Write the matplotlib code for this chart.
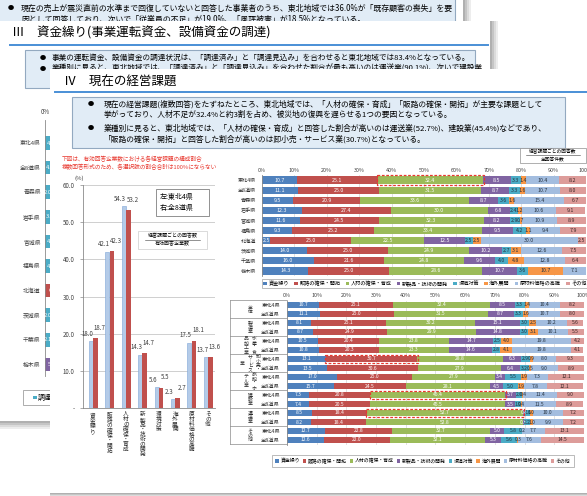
import numpy as np
import matplotlib
matplotlib.use("Agg")
import matplotlib.pyplot as plt
from matplotlib.patches import Rectangle

plt.rcParams["font.family"] = ["Noto Sans CJK JP", "DejaVu Sans"]
plt.rcParams["axes.unicode_minus"] = False

# ---------------------------------------------------------------- data
issues = ["資金繰り", "販路の確保・開拓", "人材の確保・育成", "新製品・技術の開発",
          "環境対策", "海外展開", "原材料価格の高騰", "その他"]
issue_colors = ["#4f81bd", "#c0504d", "#9bbb59", "#8064a2",
                "#4bacc6", "#f79646", "#a3bddf", "#dd9c9a"]
label_colors = ["white", "white", "white", "white",
                "#26323f", "#26323f", "#26323f", "#3a2626"]

# share of responding firms per issue (multiple answers)
share_tohoku = [18.0, 42.1, 54.3, 14.3, 5.6, 2.3, 17.5, 13.7]
share_all8 = [18.7, 42.3, 53.2, 14.7, 5.5, 2.7, 18.1, 13.6]

# composition by prefecture
regions = ["東北4県", "全8道県", "青森県", "岩手県", "宮城県", "福島県",
           "北海道", "茨城県", "千葉県", "栃木県"]
reg_funds = [10.7, 11.1, 9.5, 12.3, 11.6, 9.3, 2.5, 14.0, 16.0, 14.3]
reg_sales = [25.1, 25.0, 20.9, 27.4, 24.5, 25.2, 25.0, 25.0, 21.6, 25.0]
reg_staff = [32.4, 31.5, 33.6, 30.0, 32.3, 33.4, 22.5, 24.9, 24.8, 28.6]
reg_product = [8.5, 8.7, 8.7, 6.8, 8.2, 9.5, 12.5, 10.2, 9.6, 10.7]
reg_env = [3.3, 3.3, 3.6, 2.4, 2.9, 4.2, 2.5, 2.7, 4.0, 3.6]
reg_overseas = [1.4, 1.6, 1.6, 1.2, 0.7, 1.1, 2.5, 3.1, 4.8, 10.7]
reg_material = [10.4, 10.7, 15.4, 10.6, 10.9, 9.4, 30.0, 12.6, 12.8, 7.1]
reg_other = [8.2, 8.0, 6.7, 9.1, 8.9, 7.9, 2.5, 7.5, 6.4, 0.0]

# composition by industry (東北4県 / 全8道県 pairs)
industries = ["全体", "製造業", "水産・食品加工業", "卸小売・サービス業",
              "旅館・ホテル業", "建設業", "運送業", "その他"]
scopes = ["東北4県", "全8道県"]
ind_funds = [10.7, 11.1, 8.1, 8.7, 10.5, 10.8, 13.1, 13.5, 17.0, 15.7, 7.3, 7.4, 8.5, 8.2, 12.7, 12.6]
ind_sales = [25.1, 25.0, 25.1, 24.9, 20.4, 20.3, 30.7, 30.6, 25.0, 24.5, 20.8, 20.5, 18.4, 18.4, 22.8, 22.0]
ind_staff = [32.4, 31.5, 30.2, 29.9, 23.8, 23.3, 28.8, 27.9, 27.9, 28.1, 45.4, 45.5, 52.7, 52.8, 32.7, 32.1]
ind_product = [8.5, 8.7, 15.1, 14.8, 14.7, 14.6, 6.3, 6.4, 3.4, 4.5, 3.7, 3.5, 0.6, 0.3, 5.0, 5.3]
ind_env = [3.3, 3.3, 3.0, 3.0, 2.5, 2.8, 2.9, 3.2, 5.5, 5.0, 2.0, 1.9, 1.6, 2.2, 5.8, 5.6]
ind_overseas = [1.4, 1.6, 2.5, 3.1, 4.0, 4.1, 0.9, 0.5, 1.9, 1.9, 0.4, 0.4, 1.0, 1.0, 0.2, 0.3]
ind_material = [10.4, 10.7, 10.2, 10.1, 19.8, 19.8, 8.0, 9.0, 7.3, 7.8, 11.4, 11.5, 10.0, 9.9, 7.7, 7.6]
ind_other = [8.2, 8.0, 5.6, 5.5, 4.2, 4.1, 9.3, 8.9, 12.1, 12.1, 9.0, 8.9, 7.2, 7.2, 13.1, 14.5]

# funding status chart (section III)
fund_ready = [4.6, 4.3, 2.0, 3.6, 4.5, 4.8, 0.0, 2.0, 2.1, 0.0]
fund_expected = [0.0, 0.0, 0.0, 0.0, 0.0, 0.0, 6.5, 0.0, 0.0, 0.0]
fund_hard = [0.0, 0.0, 0.0, 0.0, 0.0, 0.0, 0.0, 0.0, 0.0, 5.5]
fund_names = ["調達済み", "調達見込み", "調達困難"]
fund_colors = ["#4bacc6", "#c0504d", "#8064a2"]

pct_ticks = list(range(0, 101, 10))

# ---------------------------------------------------------------- canvas
W, H = 587, 496
fig = plt.figure(figsize=(W / 100, H / 100), dpi=100)
fig.patch.set_facecolor("white")


def add_px(x0, y0, x1, y1, z):
    return fig.add_axes([x0 / W, 1 - y1 / H, (x1 - x0) / W, (y1 - y0) / H], zorder=z)


def blank(ax, x0, x1, y0, y1, face="white"):
    ax.set_xlim(x0, x1)
    ax.set_ylim(y1, y0)
    ax.set_xticks([])
    ax.set_yticks([])
    for s in ax.spines.values():
        s.set_visible(False)
    ax.set_facecolor(face)


def vtext(s):
    return "\n".join("｜" if c == "ー" else c for c in s)


BOX_FACE = "#e1ecf6"
BOX_EDGE = "#93a9c0"
RULE_BLUE = "#4a8fd6"

# desk: section pages lying underneath
desk = add_px(0, 0, W, H, 0)
blank(desk, 0, W, 0, H, face="none")

# page with section II text
desk.add_patch(Rectangle((-5, -5), 460, 27, fc=BOX_FACE, ec=BOX_EDGE, lw=0.8, zorder=1))
desk.text(8, 8, "●", fontsize=4.5, va="center", zorder=1)
desk.text(21, 8, "現在の売上が震災直前の水準まで回復していないと回答した事業者のうち、東北地域では36.0%が「既存顧客の喪失」を要",
          fontsize=5.7, va="center", zorder=1)
desk.text(21, 19, "因として回答しており、次いで「従業員の不足」が19.0%、「風評被害」が18.5%となっている。",
          fontsize=5.7, va="center", zorder=1)
for i, a in enumerate([0.55, 0.4, 0.25, 0.12]):
    desk.add_patch(Rectangle((463 + i * 2, -5), 2, 27, fc="#707070", ec="none", alpha=a, zorder=1))

# page with section III
desk.add_patch(Rectangle((-5, 21), 495, 400, fc="white", ec="none", zorder=2))
for i, a in enumerate([0.55, 0.4, 0.25, 0.12]):
    desk.add_patch(Rectangle((490 + i * 2, 21), 2, 60, fc="#707070", ec="none", alpha=a, zorder=2))
    desk.add_patch(Rectangle((-5, 421 + i * 2), 60, 2, fc="#707070", ec="none", alpha=a, zorder=2))
desk.text(12, 33, "Ⅲ　資金繰り(事業運転資金、設備資金の調達)", fontsize=9, va="center", zorder=3)
desk.plot([10, 488], [45, 45], color=RULE_BLUE, lw=1.4, zorder=3)
desk.add_patch(Rectangle((25, 50), 450, 38, fc=BOX_FACE, ec=BOX_EDGE, lw=0.8, zorder=3))
desk.text(40, 58, "●", fontsize=4.5, va="center", zorder=4)
desk.text(52, 58, "事業の運転資金、設備資金の調達状況は、「調達済み」と「調達見込み」を合わせると東北地域では83.4%となっている。",
          fontsize=5.5, va="center", zorder=4)
desk.text(40, 69, "●", fontsize=4.5, va="center", zorder=4)
desk.text(52, 69, "業種別に見ると、東北地域では、「調達済み」と「調達見込み」を合わせた割合が最も高いのは運送業(90.1%)、次いで建設業",
          fontsize=5.5, va="center", zorder=4)
desk.add_patch(Rectangle((23, 390), 60, 15, fc="white", ec="#a0a0a0", lw=0.6, zorder=3))
desk.add_patch(Rectangle((33, 395.5), 3.5, 3.5, fc=fund_colors[0], ec="none", zorder=4))
desk.text(38, 397.5, "調達済み", fontsize=5, va="center", zorder=4)

# page with section IV shadow
for i, a in enumerate([0.55, 0.4, 0.25, 0.12]):
    desk.add_patch(Rectangle((50, 493 + i * 1.2), 540, 1.2, fc="#707070", ec="none", alpha=a, zorder=2))

# funding status bars (section III)
af = add_px(45, 120, 295, 376, 1)
fy = np.arange(len(regions))
fleft = np.zeros(len(regions))
for vals, col in zip([fund_ready, fund_expected, fund_hard], fund_colors):
    vals = np.asarray(vals)
    bc = af.barh(fy, vals, left=fleft, height=0.55, color=col)
    af.bar_label(bc, labels=["" if v == 0 else f"{v:.1f}" for v in vals],
                 label_type="center", fontsize=4.2, color="white")
    fleft += vals
af.set_xlim(0, 100)
af.set_ylim(9.47, -0.935)
af.set_yticks(fy)
af.set_yticklabels(regions, fontsize=4.2, color="#404040")
af.xaxis.tick_top()
af.set_xticks([0])
af.set_xticklabels(["0%"], fontsize=4.5, color="#404040")
af.tick_params(axis="both", length=0, pad=3)
for s in ["top", "right", "bottom"]:
    af.spines[s].set_visible(False)
af.spines["left"].set_color("#8a8a8a")
af.spines["left"].set_linewidth(0.6)

# ---------------------------------------------------------------- section IV page
p3 = add_px(50, 69, 587, 493, 2)
blank(p3, 50, 587, 69, 493)
p3.text(64, 82, "Ⅳ　現在の経営課題", fontsize=9, va="center")
p3.plot([55, 590], [92, 92], color=RULE_BLUE, lw=1.4)
p3.add_patch(Rectangle((72, 97), 493, 51, fc=BOX_FACE, ec=BOX_EDGE, lw=0.8))
body = [
    (104, True, "現在の経営課題(複数回答)をたずねたところ、東北地域では、「人材の確保・育成」「販路の確保・開拓」が主要な課題として"),
    (115, False, "挙がっており、人材不足が32.4%と約3割を占め、被災地の復興を遅らせる1つの要因となっている。"),
    (128, True, "業種別に見ると、東北地域では、「人材の確保・育成」と回答した割合が高いのは運送業(52.7%)、建設業(45.4%)などであり、"),
    (139, False, "「販路の確保・開拓」と回答した割合が高いのは卸小売・サービス業(30.7%)となっている。"),
]
for y, bullet, line in body:
    if bullet:
        p3.text(88, y, "●", fontsize=4.5, va="center")
    p3.text(104, y, line, fontsize=5.6, va="center")

RED_NOTE = "#e8382f"
p3.text(62, 159, "下図は、有効回答企業数における各経営課題の構成割合", fontsize=4.1, color=RED_NOTE, va="center")
p3.text(62, 167.5, "複数回答形式のため、各選択肢の割合合計は100%にならない", fontsize=4.1, color=RED_NOTE, va="center")
p3.text(79, 178, "(%)", fontsize=4.3, color="#404040", va="center", ha="center")

# legend-like boxes of the left chart
p3.add_patch(Rectangle((156, 189), 53, 27, fc="white", ec="#808080", lw=0.6))
p3.text(160, 197, "左:東北4県", fontsize=5, va="center")
p3.text(160, 208.5, "右:全8道県", fontsize=5, va="center")
p3.add_patch(Rectangle((138, 231), 69, 18, fc="white", ec="#c0c0c0", lw=0.4))
p3.text(172.5, 236, "経営課題ごとの回答数", fontsize=3.6, ha="center", va="center")
p3.plot([145, 200], [240, 240], color="#404040", lw=0.4)
p3.text(172.5, 244, "有効回答企業数", fontsize=3.6, ha="center", va="center")

# ratio note above the prefecture chart
p3.add_patch(Rectangle((520, 148), 66, 15, fc="white", ec="#909090", lw=0.5))
p3.text(553, 152, "経営課題ごとの回答数", fontsize=3.4, ha="center", va="center")
p3.plot([526, 580], [155.5, 155.5], color="#404040", lw=0.4)
p3.text(553, 159, "全回答件数", fontsize=3.4, ha="center", va="center")

# ---------------------------------------------------------------- left: paired bars
axL = add_px(83, 185, 215, 408, 3)
axL.set_facecolor("none")
xi = np.arange(len(issues))
axL.bar(xi - 0.13, share_tohoku, width=0.25, color="#b4cbe8", edgecolor="#7fa6d8", linewidth=0.4)
axL.bar(xi + 0.15, share_all8, width=0.28, color="#c0504d")
for x, v in zip(xi, share_tohoku):
    axL.annotate(f"{v:.1f}", (x - 0.13, v), xytext=(-2.5, 2.5), textcoords="offset points",
                 ha="center", va="bottom", fontsize=4.4, color="#404040")
for x, v in zip(xi, share_all8):
    axL.annotate(f"{v:.1f}", (x + 0.15, v), xytext=(3, 4.5), textcoords="offset points",
                 ha="center", va="bottom", fontsize=4.4, color="#404040")
axL.set_ylim(0, 60)
axL.set_xlim(-0.61, 7.43)
axL.set_yticks(range(0, 61, 10))
axL.set_yticklabels(["-"] + [f"{t:.1f}" for t in range(10, 61, 10)], fontsize=4.4, color="#404040")
axL.set_xticks(xi)
axL.set_xticklabels([vtext(s) for s in issues], fontsize=4.1, color="#303030", linespacing=0.95)
axL.tick_params(axis="x", length=0, pad=3)
axL.tick_params(axis="y", length=2, width=0.5, color="#888888", pad=4)
axL.yaxis.grid(True, color="#c8c8c8", lw=0.6)
axL.set_axisbelow(True)
for s in ["top", "right"]:
    axL.spines[s].set_visible(False)
for s in ["left", "bottom"]:
    axL.spines[s].set_color("#8a8a8a")
    axL.spines[s].set_linewidth(0.6)


# ---------------------------------------------------------------- stacked 100% bars
def stacked(ax, cols, height, fs):
    n = len(cols[0])
    pos = np.arange(n)
    left = np.zeros(n)
    handles = []
    for k, vals in enumerate(cols):
        vals = np.asarray(vals, dtype=float)
        bc = ax.barh(pos, vals, left=left, height=height, color=issue_colors[k], label=issues[k])
        labs = ["" if v == 0 else f"{v:.1f}" for v in vals]
        ax.bar_label(bc, labels=labs, label_type="center", fontsize=fs, color=label_colors[k])
        handles.append(bc)
        left += vals
    ax.set_xlim(0, 100)
    ax.set_xticks(pct_ticks)
    ax.set_xticklabels([f"{t}%" for t in pct_ticks], fontsize=3.9, color="#404040")
    ax.xaxis.tick_top()
    ax.xaxis.grid(True, color="#d4d4d4", lw=0.5)
    ax.set_axisbelow(True)
    for s in ["top", "right", "bottom"]:
        ax.spines[s].set_visible(False)
    ax.spines["left"].set_color("#8a8a8a")
    ax.spines["left"].set_linewidth(0.6)
    ax.set_facecolor("none")
    return handles


def highlight(ax, cols, row, k, height):
    left = sum(c[row] for c in cols[:k])
    w = cols[k][row]
    ax.add_patch(Rectangle((left - 0.3, row - height / 2 - 0.12), w + 0.6, height + 0.24,
                           fill=False, ec="#e8382f", ls=(0, (2.2, 1.3)), lw=0.9,
                           clip_on=False, zorder=5))


reg_cols = [reg_funds, reg_sales, reg_staff, reg_product, reg_env, reg_overseas, reg_material, reg_other]
axU = add_px(262, 175, 586, 276, 3)
hU = stacked(axU, reg_cols, 0.72, 3.8)
axU.set_ylim(len(regions) - 0.5, -0.5)
axU.set_yticks(range(len(regions)))
axU.set_yticklabels(regions, fontsize=3.7, color="#303030")
axU.tick_params(axis="both", length=0, pad=1.5)
axU.tick_params(axis="y", pad=4)
highlight(axU, reg_cols, 0, 2, 0.72)
axU.legend(hU, issues, ncol=8, loc="center", bbox_to_anchor=(425, 283.5), bbox_transform=p3.transData,
           fontsize=3.7, handlelength=0.7, handleheight=0.7, handletextpad=0.3, columnspacing=1.0,
           frameon=True, fancybox=False, edgecolor="#a0a0a0", borderpad=0.35, framealpha=1)
axU.get_legend().get_frame().set_linewidth(0.5)

ind_cols = [ind_funds, ind_sales, ind_staff, ind_product, ind_env, ind_overseas, ind_material, ind_other]
n_rows = len(ind_funds)
B_TOP, B_BOT = 300.5, 444.5
axB = add_px(287, B_TOP, 584, B_BOT, 3)
hB = stacked(axB, ind_cols, 0.72, 3.6)
axB.set_ylim(n_rows - 0.5, -0.5)
axB.set_yticks(range(n_rows))
axB.set_yticklabels(scopes * len(industries), fontsize=3.8, color="#303030")
axB.tick_params(axis="both", length=0, pad=1.5)
axB.tick_params(axis="y", pad=5)
for row, k in [(6, 1), (10, 2), (12, 2)]:
    highlight(axB, ind_cols, row, k, 0.72)
axB.legend(hB, issues, ncol=8, loc="center", bbox_to_anchor=(423, 461), bbox_transform=p3.transData,
           fontsize=3.5, handlelength=0.7, handleheight=0.7, handletextpad=0.3, columnspacing=0.65,
           frameon=True, fancybox=False, edgecolor="#a0a0a0", borderpad=0.7, framealpha=1)
axB.get_legend().get_frame().set_linewidth(0.5)

# industry group frame and vertical labels
grp_h = (B_BOT - B_TOP) / len(industries)
for g in range(len(industries) + 1):
    y = B_TOP + g * grp_h
    p3.plot([230, 287], [y, y], color="#8a8a8a", lw=0.5)
p3.plot([230, 230], [B_TOP, B_BOT], color="#8a8a8a", lw=0.5)
for g, name in enumerate(industries):
    cy = B_TOP + (g + 0.5) * grp_h
    chunks = [name[i:i + 4] for i in range(0, len(name), 4)]
    nc = len(chunks)
    for j, chunk in enumerate(chunks):
        cx = 250 + (nc - 1) * 4 - j * 8
        p3.text(cx, cy, vtext(chunk), fontsize=3.5, ha="center", va="center",
                linespacing=0.85, color="#303030")

fig.savefig("out.png", dpi=100, facecolor="white")
